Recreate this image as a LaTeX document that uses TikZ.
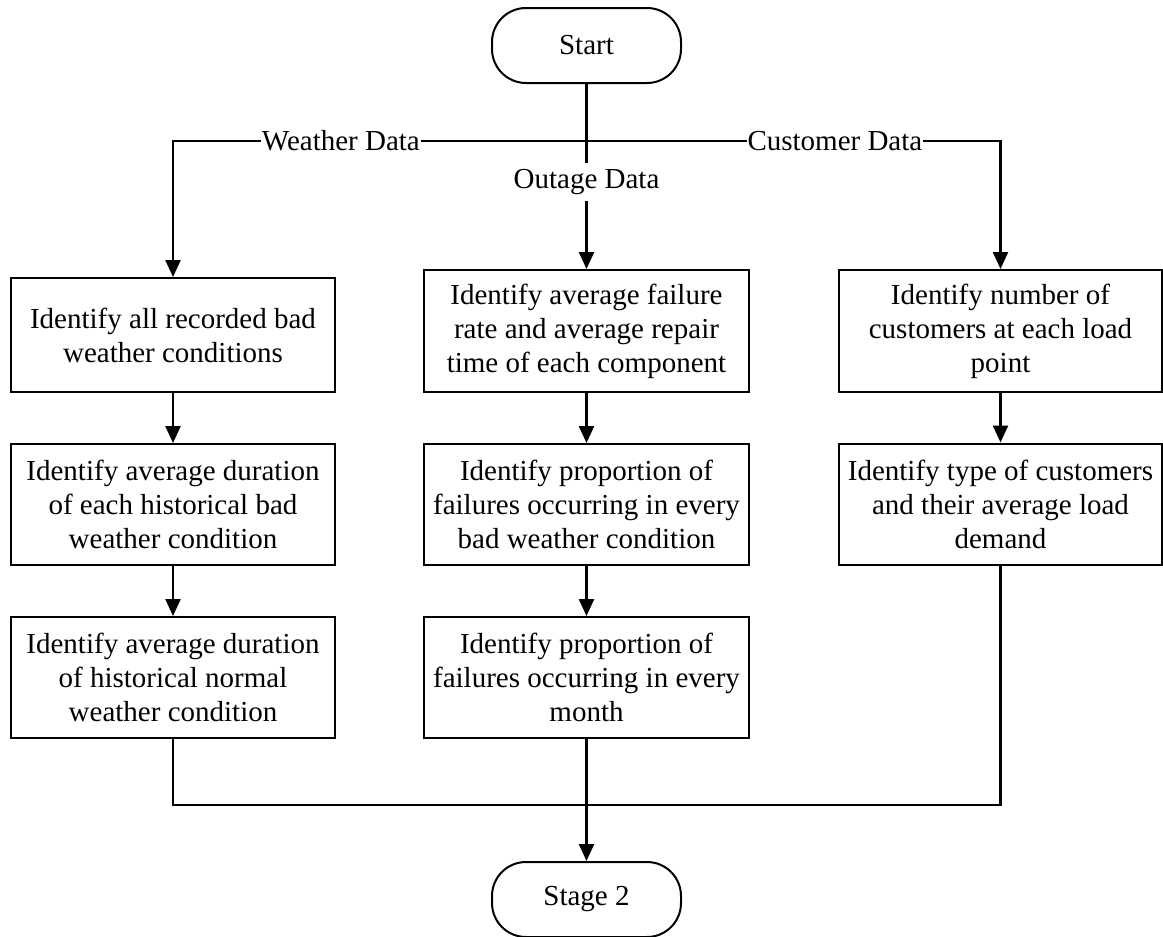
\documentclass[tikz,border=0pt]{standalone}
\usepackage{fontspec}
\setmainfont{Liberation Serif}
\usetikzlibrary{arrows.meta}

\begin{document}
\begin{tikzpicture}[x=1pt,y=-1pt,
  every node/.style={font=\fontsize{29pt}{34pt}\selectfont},
  procbox/.style={draw, line width=2pt, inner sep=0pt, align=center,
    minimum height=#1},
  procbox/.default=121pt,
  colL/.style={minimum width=324pt},
  colM/.style={minimum width=325pt},
  colR/.style={minimum width=323pt},
  term/.style={draw, line width=2pt, rounded corners=34pt,
    minimum width=189pt, minimum height=75pt, inner sep=0pt},
  flow/.style={line width=2.4pt},
  arrow/.style={flow, -{Triangle[length=17pt,width=15pt]}},
  lbl/.style={fill=white, inner xsep=1pt, inner ysep=6pt}
]
\useasboundingbox (0,0) rectangle (1163,937);

% terminals
\node[term] (start) at (586.5,45.5) {Start};
\node[term] (stage) at (586.5,899.5) {Stage 2};

% weather column
\node[procbox=114pt, colL] (l1) at (173,335)
  {Identify all recorded bad\\weather conditions};
\node[procbox, colL] (l2) at (173,504.5)
  {Identify average duration\\of each historical bad\\weather condition};
\node[procbox, colL] (l3) at (173,677.5)
  {Identify average duration\\of historical normal\\weather condition};

% outage column
\node[procbox=122pt, colM] (m1) at (586.5,331)
  {Identify average failure\\rate and average repair\\time of each component};
\node[procbox, colM] (m2) at (586.5,504.5)
  {Identify proportion of\\failures occurring in every\\bad weather condition};
\node[procbox, colM] (m3) at (586.5,677.5)
  {Identify proportion of\\failures occurring in every\\month};

% customer column
\node[procbox=122pt, colR] (r1) at (1000.5,331)
  {Identify number of\\customers at each load\\point};
\node[procbox, colR] (r2) at (1000.5,504)
  {Identify type of customers\\and their average load\\demand};

% branch points
\coordinate (split) at (586.5,141);
\coordinate (wb) at (173,141);
\coordinate (cb) at (1000.5,141);
\coordinate (join) at (1000.5,805);

% fan-out from Start
\draw[arrow] (start) -- node[lbl, pos=0.53] {Outage Data} (m1);
\draw[arrow] (split) -- node[lbl, pos=0.594] {Weather Data} (wb) -- (l1);
\draw[arrow] (split) -- node[lbl, pos=0.600] {Customer Data} (cb) -- (r1);

% column steps
\draw[arrow] (l1) -- (l2);
\draw[arrow] (l2) -- (l3);
\draw[arrow] (m1) -- (m2);
\draw[arrow] (m2) -- (m3);
\draw[arrow] (r1) -- (r2);

% merge into Stage 2
\draw[flow] (l3.south) |- (join) -- (r2.south);
\draw[arrow] (m3) -- (stage);
\end{tikzpicture}
\end{document}
